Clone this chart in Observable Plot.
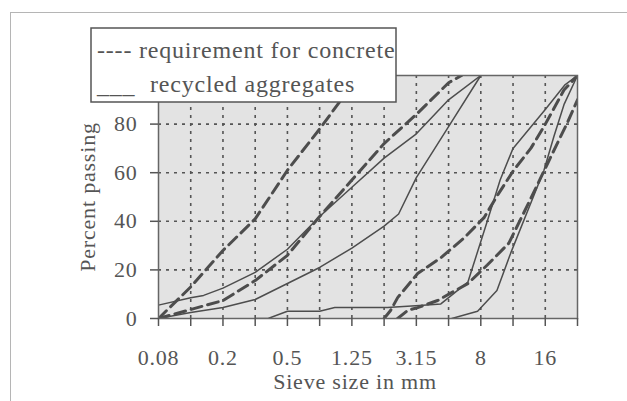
<!DOCTYPE html>
<html><head><meta charset="utf-8">
<script src="https://cdn.jsdelivr.net/npm/d3@7"></script>
<script src="https://cdn.jsdelivr.net/npm/@observablehq/plot@0.6"></script>
<style>
body{margin:0;background:#fff;}
#wrap{position:relative;width:627px;height:401px;overflow:hidden;}
#outer{position:absolute;left:10px;top:12px;width:660px;height:440px;border-top:1.5px solid #b5b5b5;border-left:1.5px solid #b5b5b5;}
#chart{position:absolute;left:0;top:0;}
</style></head><body><div id="wrap"><div id="outer"></div><div id="chart"></div></div>
<script>
// sieve positions (equally spaced index) and labels
const sieveIndex = [0,1,2,3,4,5,6,7,8,9,10,11,12,13];
const sieveLabels = ["0.08","","0.2","","0.5","","1.25","","3.15","","8","","16",""];
const yTicks = [0,20,40,60,80];
const yGrid = [20,40,60,80];
const xGrid = [1,2,3,4,5,6,7,8,9,10,11,12];

// requirement for concrete (dashed)
const reqA_x = [0,1,2,3,4,5,6,6.3];
const reqA_y = [0,13,28,41,61,78,96,100];
const reqB_x = [0,1,2,3,4,5,6,7,8,9,9.4];
const reqB_y = [0,3.7,7.4,15.6,26,42,57,72,84,97,100];
const reqC_x = [7,7.2,7.42,8.04,8.76,9.47,10.1,10.53,11.02,11.55,11.96,12.58,13];
const reqC_y = [0,3.3,8.6,18.5,25,33,41.5,51,61,70,79,94,100];
const reqD_x = [7.42,7.73,8.04,8.66,9.6,10.2,10.87,11.5,12.08,12.7,13];
const reqD_y = [0,3.3,4.5,7.4,14.4,22,31,48,64,81,90];

// recycled aggregates (solid)
const recA_x = [0,1,1.4,2,3,4,5,6,7,8,9,10];
const recA_y = [5.5,8.5,9.5,12.5,19,28.5,42,54,66,76,90,100];
const recB_x = [0,1,2,3,4,5,6,7,7.45,8,9,10];
const recB_y = [0,2.5,4.5,7.8,14.4,21,29,38,43,58,79,100];
const recC_x = [3,3.4,4,5,5.47,7.1,8.1,8.76,9.6,10.2,10.6,11,12,12.6,13];
const recC_y = [0,0,3,3,4.5,4.5,5.3,6,15,40,57,70,86,96,100];
const recD_x = [9.1,9.9,10.5,10.93,11.96,12.27,12.58,13];
const recD_y = [0,3,11.5,27,61,75,88,100];

const series = [
  {name:"reqA", type:"req", xs:reqA_x, ys:reqA_y},
  {name:"reqB", type:"req", xs:reqB_x, ys:reqB_y},
  {name:"reqC", type:"req", xs:reqC_x, ys:reqC_y},
  {name:"reqD", type:"req", xs:reqD_x, ys:reqD_y},
  {name:"recA", type:"rec", xs:recA_x, ys:recA_y},
  {name:"recB", type:"rec", xs:recB_x, ys:recB_y},
  {name:"recC", type:"rec", xs:recC_x, ys:recC_y},
  {name:"recD", type:"rec", xs:recD_x, ys:recD_y}
];
const rows = series.flatMap(s => s.xs.map((x,i) => ({series:s.name, type:s.type, x, y:s.ys[i]})));

const ink = "#4d4d4d";
const txt = "#555";
const plot = Plot.plot({
  width: 627, height: 401,
  marginLeft: 158, marginRight: 50, marginTop: 75, marginBottom: 83,
  style: {fontFamily: "'Liberation Serif', 'Times New Roman', serif", fontSize: "22px", color: txt, background: "transparent"},
  x: {type: "linear", domain: [0, 13]},
  y: {type: "linear", domain: [0, 100]},
  marks: [
    Plot.frame({fill: "#e3e3e3", stroke: null}),
    Plot.ruleX(xGrid, {stroke: "#555", strokeWidth: 1.6, strokeDasharray: "3,5"}),
    Plot.ruleY(yGrid, {stroke: "#555", strokeWidth: 1.6, strokeDasharray: "3,5"}),
    Plot.line(rows, {filter: d => d.type === "rec", x: "x", y: "y", z: "series", stroke: ink, strokeWidth: 1.5, clip: true}),
    Plot.line(rows, {filter: d => d.type === "req", x: "x", y: "y", z: "series", stroke: ink, strokeWidth: 3, strokeDasharray: "11,6", clip: true}),
    Plot.frame({stroke: "#666", strokeWidth: 1.5}),
    Plot.axisX(sieveIndex, {tickFormat: (d, i) => sieveLabels[i], tickSize: 8, tickPadding: 23, stroke: "#555", strokeWidth: 1.5, label: null}),
    Plot.axisY(yTicks, {tickSize: 8, tickPadding: 13, stroke: "#555", strokeWidth: 1.5, label: null}),
    Plot.text(["Percent passing"], {frameAnchor: "left", textAnchor: "middle", dx: -71, rotate: -90, fill: txt}),
    Plot.text(["Sieve size in mm"], {frameAnchor: "bottom", textAnchor: "middle", dy: 70, dx: -13, fill: txt})
  ]
});
d3.select(plot).style("letter-spacing", "0.8px");
document.getElementById("chart").appendChild(plot);

// legend box overlaid on the plot
const svg = d3.select(plot);
const lg = svg.append("g").attr("font-size", "24px").attr("fill", txt).attr("text-anchor", "start");
lg.append("rect").attr("x", 91).attr("y", 28).attr("width", 305).attr("height", 74)
  .attr("fill", "#fff").attr("stroke", "#555").attr("stroke-width", 1.5);
lg.append("text").attr("x", 97).attr("y", 58).text("---- requirement for concrete");
lg.append("text").attr("x", 97).attr("y", 93).text("___");
lg.append("text").attr("x", 150).attr("y", 92).text("recycled aggregates");
</script></body></html>
